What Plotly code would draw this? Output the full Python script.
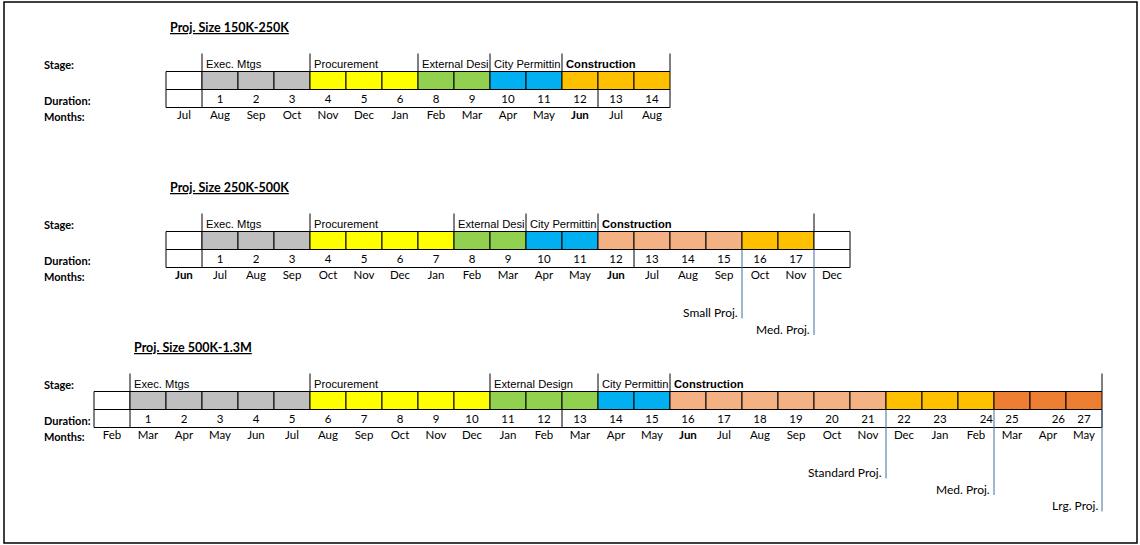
import plotly.graph_objects as go

# ---- data -------------------------------------------------------------
S1_TITLE = "Proj. Size 150K-250K"
S1_MONTHS = ["Jul", "Aug", "Sep", "Oct", "Nov", "Dec", "Jan", "Feb", "Mar", "Apr",
             "May", "Jun", "Jul", "Aug"]
S1_DURATION = ["", "1", "2", "3", "4", "5", "6", "8", "9", "10", "11", "12", "13", "14"]
S1_STAGE_NAMES = ["Exec. Mtgs", "Procurement", "External Desi", "City Permittin", "Construction"]
S1_STAGE_SPANS = [3, 3, 2, 2, 3]
S1_FILL_COLORS = ["#BFBFBF", "#FFFF00", "#92D050", "#00B0F0", "#FFC000"]
S1_FILL_SPANS = [3, 3, 2, 2, 3]
S1_BOLD_MONTHS = [11]
S1_MILESTONES = []
S1_MILESTONE_AT = []

S2_TITLE = "Proj. Size 250K-500K"
S2_MONTHS = ["Jun", "Jul", "Aug", "Sep", "Oct", "Nov", "Dec", "Jan", "Feb", "Mar",
             "Apr", "May", "Jun", "Jul", "Aug", "Sep", "Oct", "Nov", "Dec"]
S2_DURATION = [""] + [str(i) for i in range(1, 18)] + [""]
S2_STAGE_NAMES = ["Exec. Mtgs", "Procurement", "External Desi", "City Permittin", "Construction"]
S2_STAGE_SPANS = [3, 4, 2, 2, 6]
S2_FILL_COLORS = ["#BFBFBF", "#FFFF00", "#92D050", "#00B0F0", "#F4B183", "#FFC000", "#FFFFFF"]
S2_FILL_SPANS = [3, 4, 2, 2, 4, 2, 1]
S2_BOLD_MONTHS = [0, 12]
S2_MILESTONES = ["Small Proj.", "Med. Proj."]
S2_MILESTONE_AT = [16, 18]

S3_TITLE = "Proj. Size 500K-1.3M"
S3_MONTHS = ["Feb", "Mar", "Apr", "May", "Jun", "Jul", "Aug", "Sep", "Oct", "Nov",
             "Dec", "Jan", "Feb", "Mar", "Apr", "May", "Jun", "Jul", "Aug", "Sep",
             "Oct", "Nov", "Dec", "Jan", "Feb", "Mar", "Apr", "May"]
S3_DURATION = [""] + [str(i) for i in range(1, 28)]
S3_STAGE_NAMES = ["Exec. Mtgs", "Procurement", "External Design", "City Permittin", "Construction"]
S3_STAGE_SPANS = [5, 5, 3, 2, 12]
S3_FILL_COLORS = ["#BFBFBF", "#FFFF00", "#92D050", "#00B0F0", "#F4B183", "#FFC000", "#ED7D31"]
S3_FILL_SPANS = [5, 5, 3, 2, 6, 3, 3]
S3_BOLD_MONTHS = [16]
S3_MILESTONES = ["Standard Proj.", "Med. Proj.", "Lrg. Proj."]
S3_MILESTONE_AT = [22, 25, 28]
S3_RIGHT_ALIGNED = ["24", "26"]

ROW_LABELS = ["Stage:", "Duration:", "Months:"]

# ---- layout (column units on x, pixel rows on y) ----------------------
W, H = 1140, 545
ORIGIN_PX, CELL_PX = 94, 36
ROW_H = 18
LABEL_COL = (42 - ORIGIN_PX) / CELL_PX
PAD = 2 / CELL_PX

TEXT_FONT = "Lato, 'Open Sans', sans-serif"
STAGE_FONT = "'Liberation Sans', Arial, sans-serif"
BLUE = "#41719C"

sections = [
    dict(title=S1_TITLE, months=S1_MONTHS, dur=S1_DURATION, names=S1_STAGE_NAMES,
         spans=S1_STAGE_SPANS, fills=S1_FILL_COLORS, fspans=S1_FILL_SPANS,
         bold=S1_BOLD_MONTHS, ms=S1_MILESTONES, ms_at=S1_MILESTONE_AT, right=[],
         start=2, title_col=2.06, top=71.5),
    dict(title=S2_TITLE, months=S2_MONTHS, dur=S2_DURATION, names=S2_STAGE_NAMES,
         spans=S2_STAGE_SPANS, fills=S2_FILL_COLORS, fspans=S2_FILL_SPANS,
         bold=S2_BOLD_MONTHS, ms=S2_MILESTONES, ms_at=S2_MILESTONE_AT, right=[],
         start=2, title_col=2.06, top=231.5),
    dict(title=S3_TITLE, months=S3_MONTHS, dur=S3_DURATION, names=S3_STAGE_NAMES,
         spans=S3_STAGE_SPANS, fills=S3_FILL_COLORS, fspans=S3_FILL_SPANS,
         bold=S3_BOLD_MONTHS, ms=S3_MILESTONES, ms_at=S3_MILESTONE_AT,
         right=S3_RIGHT_ALIGNED, start=0, title_col=1.06, top=391.5),
]

fig = go.Figure()
shapes = []
annotations = []


def line(x0, y0, x1, y1, color="black", width=1):
    shapes.append(dict(type="line", xref="x", yref="y", x0=x0, y0=y0, x1=x1, y1=y1,
                       line=dict(color=color, width=width), layer="above"))


for sec in sections:
    top = sec["top"]
    s = sec["start"]
    n = len(sec["months"])
    end = s + n

    # title
    annotations.append(dict(x=sec["title_col"], y=top - 44, xref="x", yref="y",
                            text="<b><u>%s</u></b>" % sec["title"], showarrow=False,
                            xanchor="left", yanchor="middle",
                            font=dict(family=TEXT_FONT, size=12.5, color="black")))
    # row labels
    for lab, dy in zip(ROW_LABELS, [-7, 29, 45]):
        annotations.append(dict(x=LABEL_COL, y=top + dy, xref="x", yref="y",
                                text="<b>%s</b>" % lab, showarrow=False,
                                xanchor="left", yanchor="middle",
                                font=dict(family=TEXT_FONT, size=11, color="black")))

    # coloured stage row: lead white cell, then fill segments
    colors = ["#FFFFFF"]
    for c, k in zip(sec["fills"], sec["fspans"]):
        colors += [c] * k
    for i, c in enumerate(colors):
        shapes.append(dict(type="rect", xref="x", yref="y", x0=s + i, x1=s + i + 1,
                           y0=top, y1=top + ROW_H, fillcolor=c,
                           line=dict(color="black", width=1), layer="below"))

    # duration row frame
    line(s, top + ROW_H, end, top + ROW_H)
    line(s, top + 2 * ROW_H, end, top + 2 * ROW_H)
    for b in [0, 1, sec["dur"].index("13"), n]:
        line(s + b, top + ROW_H, s + b, top + 2 * ROW_H)

    # stage labels and separators
    c = s + 1
    for name, k in zip(sec["names"], sec["spans"]):
        line(c, top - ROW_H, c, top)
        txt = "<b>%s</b>" % name if name == "Construction" else name
        annotations.append(dict(x=c + PAD, y=top - 7.5, xref="x", yref="y", text=txt,
                                showarrow=False, xanchor="left", yanchor="middle",
                                font=dict(family=STAGE_FONT, size=11.2, color="black")))
        c += k
    line(c, top - ROW_H, c, top)

    # milestones
    for j, (lab, at) in enumerate(zip(sec["ms"], sec["ms_at"])):
        ty = top + 81 + 16.5 * j
        line(s + at, top + ROW_H, s + at, ty + 6, color=BLUE)
        annotations.append(dict(x=s + at - 2 / CELL_PX, y=ty, xref="x", yref="y",
                                text=lab, showarrow=False, xanchor="right",
                                yanchor="middle",
                                font=dict(family=TEXT_FONT, size=12, color="black")))

    # durations
    xs, ys, pos = [], [], []
    for i, d in enumerate(sec["dur"]):
        if d in sec["right"]:
            xs.append(s + i + 1 - 1 / CELL_PX)
            pos.append("middle left")
        else:
            xs.append(s + i + 0.5)
            pos.append("middle center")
        ys.append(top + 29)
    fig.add_trace(go.Scatter(x=xs, y=ys, text=sec["dur"], mode="text", textposition=pos,
                             textfont=dict(family=TEXT_FONT, size=11.5, color="black"),
                             hoverinfo="skip", showlegend=False))

    # months
    mtext = ["<b>%s</b>" % m if i in sec["bold"] else m for i, m in enumerate(sec["months"])]
    fig.add_trace(go.Scatter(x=[s + i + 0.5 for i in range(n)], y=[top + 45] * n,
                             text=mtext, mode="text", textposition="middle center",
                             textfont=dict(family=TEXT_FONT, size=11.5, color="black"),
                             hoverinfo="skip", showlegend=False))

# outer frame
shapes.append(dict(type="rect", xref="x", yref="y",
                   x0=(4 - ORIGIN_PX) / CELL_PX, x1=(1137 - ORIGIN_PX) / CELL_PX,
                   y0=2, y1=543, line=dict(color="black", width=1.5), layer="above"))

fig.update_layout(
    width=W, height=H,
    margin=dict(l=0, r=0, t=0, b=0),
    paper_bgcolor="white", plot_bgcolor="white",
    xaxis=dict(range=[-ORIGIN_PX / CELL_PX, (W - ORIGIN_PX) / CELL_PX], visible=False,
               fixedrange=True),
    yaxis=dict(range=[H, 0], visible=False, fixedrange=True),
    shapes=shapes,
    annotations=annotations,
)

# page body margin would shift the sheet by 8px; drop it
fig.write_html("out.html", post_script="document.body.style.margin='0px';",
               config={"displayModeBar": False})
